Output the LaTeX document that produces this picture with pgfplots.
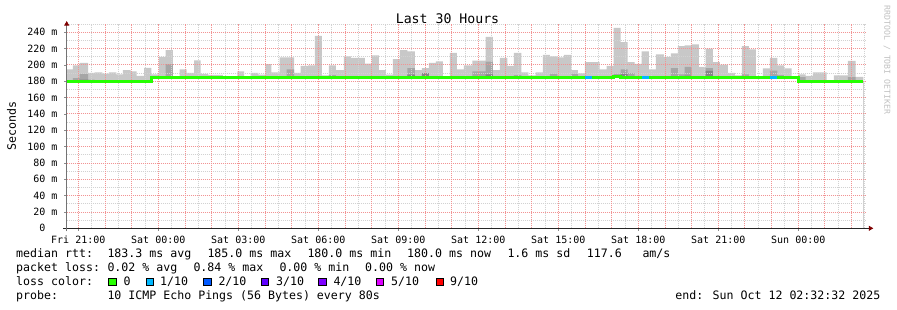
\documentclass[border=0pt]{standalone}
\usepackage{fontspec}
\setmainfont{DejaVu Sans Mono}
\usepackage{pgfplots}
\pgfplotsset{compat=1.18}
\usepackage{pgfplotstable}
\usetikzlibrary{arrows.meta}
\definecolor{smokelight}{HTML}{C8C8C8}
\definecolor{smokedark}{HTML}{A6A6A6}
\definecolor{smokedarker}{HTML}{858585}
\definecolor{loss0}{HTML}{26FF00}
\definecolor{loss1}{HTML}{00B8FF}
\definecolor{loss2}{HTML}{0059FF}
\definecolor{loss3}{HTML}{5E00FF}
\definecolor{loss4}{HTML}{7E00FF}
\definecolor{loss5}{HTML}{DD00FF}
\definecolor{loss9}{HTML}{FF0000}
\definecolor{mgrid}{HTML}{F29494}
\definecolor{mingrid}{HTML}{D2D2D2}
\definecolor{arrowred}{HTML}{7F0000}
\definecolor{rrdgrey}{HTML}{C0C0C0}

\pgfplotstableread{
x      top    dark   dd     med
-0.435 194.7  180    180    180
-0.199 199.6  184    180    180
0.0525 202.4  189    182    180
0.364  190.2  182    180    180
0.615  191.0  180    180    180
0.900  189.4  180    180    180
1.151  191.0  180    180    180
1.425  188.6  180    180    180
1.676  193.5  180    180    180
1.965  192.2  181    180    180
2.190  186.5  180    180    180
2.464  196.3  180    180    180
2.737  188.6  185    185    185
3.026  209.8  185    185    185
3.277  218.0  201    186    185
3.551  185.3  185    185    185
3.802  194.7  185    185    185
4.065  190.2  185    185    185
4.339  205.7  185    185    185
4.590  189.0  185    185    185
4.864  187.8  185    185    185
5.426  185.0  185    185    185
5.962  192.2  185    185    185
6.214  185.3  185    185    185
6.465  190.2  185    185    185
6.750  188.2  185    185    185
7.012  201.0  185    185    185
7.237  191.0  185    185    185
7.552  209.4  185    185    185
7.815  209.4  194.7  185    185
8.089  190.2  185    185    185
8.340  198.8  185    185    185
8.614  199.6  185    185    185
8.876  235.5  185    185    185
9.139  187.3  185    185    185
9.401  199.6  187    187    185
9.664  193.5  185    185    185
9.964  210.6  185    185    185
10.226 208.6  185    185    185
10.751 201.6  185    185    185
11.002 211.8  185    185    185
11.276 193.5  185    185    185
11.539 188.2  185    185    185
11.801 207.0  185    185    185
12.064 218.0  185    185    185
12.337 216.7  196    188    185
12.626 193.5  185    185    185
12.889 196.0  190    190    185
13.151 202.4  185    185    185
13.414 204.5  185    185    185
13.676 185.0  185    185    185
13.939 214.7  185    185    185
14.201 194.7  185    185    185
14.464 199.6  185    185    185
14.775 205.3  192    185    185
15.277 234.3  204    188.6  185
15.551 193.5  185    185    185
15.813 208.6  185    185    185
16.087 198.8  185    185    185
16.339 214.7  187    187    185
16.612 191.0  185    185    185
16.875 187.3  185    185    185
17.152 191.0  185    185    185
17.426 212.2  185    185    185
17.689 210.6  189    185    185
17.962 209.4  185    185    185
18.213 212.2  185    185    185
18.487 193.5  189    185    185
18.738 189.8  185    185    185
19.001 203.3  185    185    185
19.275 203.3  185    185    185
19.552 194.7  185    185    185
19.815 198.8  185    185    185
20.077 245.3  189    185    186.2
20.340 227.8  194.7  189    185
20.602 203.3  190    185    185
20.865 201.2  185    185    185
21.127 216.7  185    185    185
21.401 194.7  185    185    185
21.663 213.0  185    185    185
21.963 209.8  185    185    185
22.226 214.3  196    185    185
22.489 222.9  188.6  185    185
22.740 224.1  197.6  187    185
23.002 225.3  185    185    185
23.276 197.6  185    185    185
23.527 220.0  196    192.7  185
23.801 203.3  185    185    185
24.063 200.4  185    185    185
24.363 190.2  185    185    185
24.626 187.3  185    185    185
24.888 222.9  188.6  185    185
25.151 219.2  185    185    185
25.413 185.0  185    185    185
25.676 195.9  185    185    185
25.938 208.6  193    185    185
26.212 199.6  187    187    185
26.463 195.9  185    185    185
26.752 185.0  185    185    185
27.000 188.6  185    180    180
27.277 186.5  180    180    180
27.551 191.0  181    180    180
28.064 180.0  180    180    180
28.338 187.3  181    180    180
28.863 204.9  185    180    180
29.152 185.3  180    180    180
29.437 185.3  180    180    180
}\smoke

\begin{document}
\begin{tikzpicture}
\path (0,0) rectangle (897bp,310bp);
\begin{axis}[
  at={(66.7bp,81.7bp)}, anchor=south west,
  scale only axis, width=799.3bp, height=204.2bp,
  xmin=-0.435, xmax=29.54, ymin=0, ymax=250,
  axis lines=left,
  axis on top,
  xtick={0,3,...,27},
  xticklabels={Fri 21:00,Sat 00:00,Sat 03:00,Sat 06:00,Sat 09:00,Sat 12:00,Sat 15:00,Sat 18:00,Sat 21:00,Sun 00:00},
  ytick={0,20,...,240},
  yticklabels={0\phantom{0m},20 m,40 m,60 m,80 m,100 m,120 m,140 m,160 m,180 m,200 m,220 m,240 m},
  xtick pos=left, ytick pos=left,
  tick align=outside,
  major tick length=2.5bp,
  every tick/.style={draw=black!45, line width=0.7bp},
  xticklabel style={font=\fontsize{10bp}{12bp}\selectfont, anchor=north, inner sep=0pt, yshift=-4.7bp},
  yticklabel style={font=\fontsize{10bp}{12bp}\selectfont, anchor=east, inner sep=0pt, xshift=-6.5bp},
  x axis line style={draw=black!85, line width=0.8bp, shorten >=-7.3bp, shorten <=-3.4bp, -{Triangle[length=4.5bp,width=5bp,color=arrowred]}},
  y axis line style={draw=black!55, line width=0.8bp, shorten >=-3bp, shorten <=-3bp, -{Triangle[length=4.5bp,width=5bp,color=arrowred]}},
]
\addplot[const plot, fill=smokelight, draw=none] table[x=x,y=top] {\smoke} \closedcycle;
\addplot[const plot, fill=smokedark, draw=none] table[x=x,y=dark] {\smoke} \closedcycle;
\addplot[const plot, fill=smokedarker, draw=none] table[x=x,y=dd] {\smoke} \closedcycle;
\addplot[const plot, fill=white, draw=none] table[x=x,y=med] {\smoke} \closedcycle;
% grid: minor grey every 30 min / 10 ms, major pink every hour / 20 ms
\pgfplotsinvokeforeach{0.5,1.5,...,29.5}{\draw[draw=mingrid, line width=0.9bp, dash pattern=on 1bp off 1bp] (axis cs:#1,0) -- (axis cs:#1,250);}
\pgfplotsinvokeforeach{10,30,...,250}{\draw[draw=mingrid, line width=0.9bp, dash pattern=on 1bp off 1bp] (axis cs:-0.435,#1) -- (axis cs:29.54,#1);}
\pgfplotsinvokeforeach{0,1,...,29}{\draw[draw=mgrid, line width=0.9bp, dash pattern=on 1bp off 1bp] (axis cs:#1,0) -- (axis cs:#1,250);}
\pgfplotsinvokeforeach{20,40,...,240}{\draw[draw=mgrid, line width=0.9bp, dash pattern=on 1bp off 1bp] (axis cs:-0.435,#1) -- (axis cs:29.54,#1);}
\addplot[const plot, draw=loss0, line width=2.7bp, line cap=butt] table[x=x,y=med] {\smoke};
\addplot[draw=loss1, line width=2.7bp, line cap=butt] coordinates {(19.001,185) (19.275,185)};
\addplot[draw=loss1, line width=2.7bp, line cap=butt] coordinates {(21.127,185) (21.401,185)};
\addplot[draw=loss1, line width=2.7bp, line cap=butt] coordinates {(25.938,185) (26.212,185)};
\end{axis}
\node[font=\fontsize{13.2bp}{16bp}\selectfont, anchor=base, inner sep=0pt] at (447.5bp,286bp) {Last 30 Hours};
\node[font=\fontsize{11.6bp}{14bp}\selectfont, rotate=90, inner sep=0pt] at (11.5bp,184bp) {Seconds};
\node[font=\fontsize{8.2bp}{10bp}\selectfont, text=rrdgrey, rotate=-90, inner sep=0pt] at (887bp,250bp) {RRDTOOL / TOBI OETIKER};
\begin{scope}[every node/.style={font=\fontsize{11.6bp}{14bp}\selectfont, inner sep=0pt, anchor=base west}]
\node at (16bp,52.3bp) {median rtt:};
\node at (107.3bp,52.3bp) {183.3 ms avg};
\node at (207.3bp,52.3bp) {185.0 ms max};
\node at (307.3bp,52.3bp) {180.0 ms min};
\node at (407bp,52.3bp) {180.0 ms now};
\node at (507.3bp,52.3bp) {1.6 ms sd};
\node at (586.7bp,52.3bp) {117.6};
\node at (642.3bp,52.3bp) {am/s};
\node at (16bp,38.3bp) {packet loss:};
\node at (107.3bp,38.3bp) {0.02 \% avg};
\node at (193.3bp,38.3bp) {0.84 \% max};
\node at (279.3bp,38.3bp) {0.00 \% min};
\node at (365bp,38.3bp) {0.00 \% now};
\node at (16bp,24.3bp) {loss color:};
\node at (123.3bp,24.3bp) {0};
\node at (160bp,24.3bp) {1/10};
\node at (218.3bp,24.3bp) {2/10};
\node at (276bp,24.3bp) {3/10};
\node at (333.3bp,24.3bp) {4/10};
\node at (391bp,24.3bp) {5/10};
\node at (450bp,24.3bp) {9/10};
\node at (16bp,10.3bp) {probe:};
\node at (107.3bp,10.3bp) {10 ICMP Echo Pings (56 Bytes) every 80s};
\node[anchor=base east] at (880.5bp,10.3bp) {end: Sun Oct 12 02:32:32 2025};
\end{scope}
\begin{scope}[every node/.style={draw=black, line width=0.8bp, minimum size=7.3bp, inner sep=0pt, anchor=south west}]
\node[fill=loss0] at (108.3bp,24.3bp) {};
\node[fill=loss1] at (145.7bp,24.3bp) {};
\node[fill=loss2] at (203.3bp,24.3bp) {};
\node[fill=loss3] at (261bp,24.3bp) {};
\node[fill=loss4] at (318.3bp,24.3bp) {};
\node[fill=loss5] at (376bp,24.3bp) {};
\node[fill=loss9] at (435.7bp,24.3bp) {};
\end{scope}
\end{tikzpicture}
\end{document}
